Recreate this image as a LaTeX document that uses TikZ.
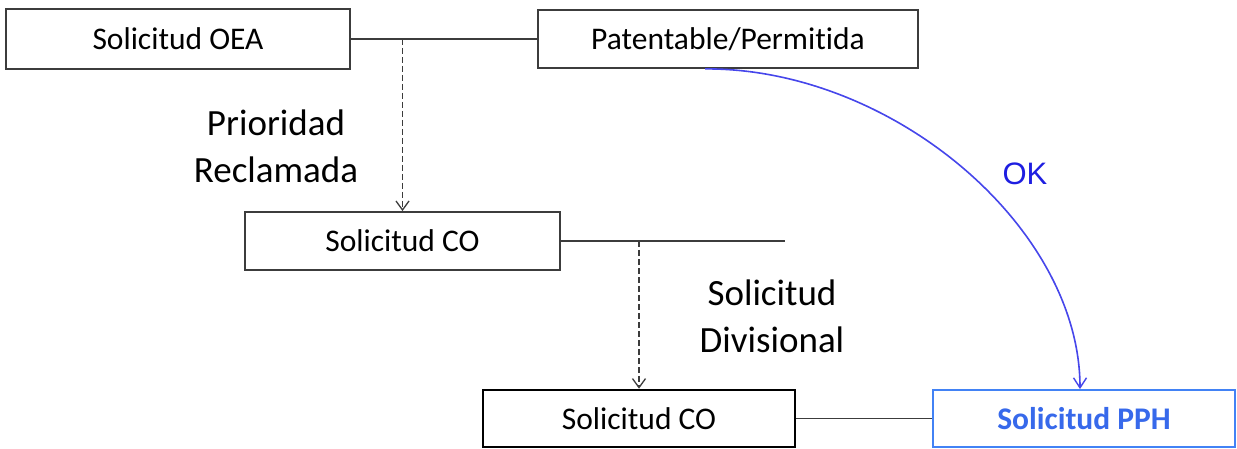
\documentclass[tikz,border=0pt]{standalone}
\usepackage{fontspec}
\setmainfont[Ligatures=NoCommon]{Carlito}
\newfontfamily\oksans{Liberation Sans}
\usetikzlibrary{arrows.meta}
\definecolor{linegray}{RGB}{60,60,60}
\definecolor{curveblue}{RGB}{70,70,235}
\definecolor{okblue}{RGB}{30,30,225}
\definecolor{pphborder}{RGB}{66,130,245}
\definecolor{pphtext}{RGB}{55,105,235}
\tikzset{
  box/.style={draw=linegray, line width=1.8pt, rectangle, inner sep=0pt,
    font=\fontsize{31.5}{38}\selectfont},
  conn/.style={draw=linegray, line width=1.5pt},
  dasharrow/.style={draw=linegray, line width=1.3pt, dash pattern=on 6pt off 3pt,
    -{Straight Barb[length=9pt,width=13pt,line width=1.3pt]}},
  biglabel/.style={align=center, font=\fontsize{37}{47}\selectfont},
  okarrow/.style={draw=curveblue, line width=1.6pt,
    -{Straight Barb[length=10pt,width=13pt,line width=1.4pt]}},
}
\begin{document}
\begin{tikzpicture}[x=1pt,y=-1pt]
\useasboundingbox[fill=white] (0,0) rectangle (1237,449);
% boxes
\node[box, minimum width=344pt, minimum height=60pt] (oea) at (178,39) {Solicitud OEA};
\node[box, minimum width=380pt, minimum height=58pt] (pat) at (728,39) {Patentable/Permitida};
\node[box, minimum width=315pt, minimum height=58pt] (co1) at (402.5,241) {Solicitud CO};
\node[box, draw=black, line width=2.6pt, minimum width=312pt, minimum height=57pt] (co2) at (639,418.5) {Solicitud CO};
\node[box, draw=pphborder, text=pphtext, minimum width=302pt, minimum height=57pt,
  font=\fontsize{31.5}{38}\selectfont\bfseries] (pph) at (1084,418.5) {Solicitud PPH};
% connectors
\draw[conn] (oea.east) -- (pat.west);
\coordinate (d1) at (co1.north |- oea.east);
\draw[dasharrow] (d1) -- (co1.north);
\coordinate (e1) at (785,241);
\draw[conn] (co1.east) -- (e1);
\coordinate (d2) at (co2.north |- co1.east);
\draw[dasharrow] (d2) -- (co2.north);
\draw[conn] (co2.east) -- (pph.west);
% curved OK arrow
\coordinate (c0) at ([xshift=-23pt]pat.south);
\coordinate (c1) at ([xshift=-4pt]pph.north);
\draw[okarrow] (c0) .. controls (893,68) and (1080,228) .. (c1);
% labels
\node[biglabel] (prio) at (276,146) {Prioridad\\Reclamada};
\node[biglabel] (div) at (772,316) {Solicitud\\Divisional};
\node[text=okblue, font=\oksans\fontsize{31}{36}\selectfont] (ok) at (1025,174) {OK};
\end{tikzpicture}
\end{document}
